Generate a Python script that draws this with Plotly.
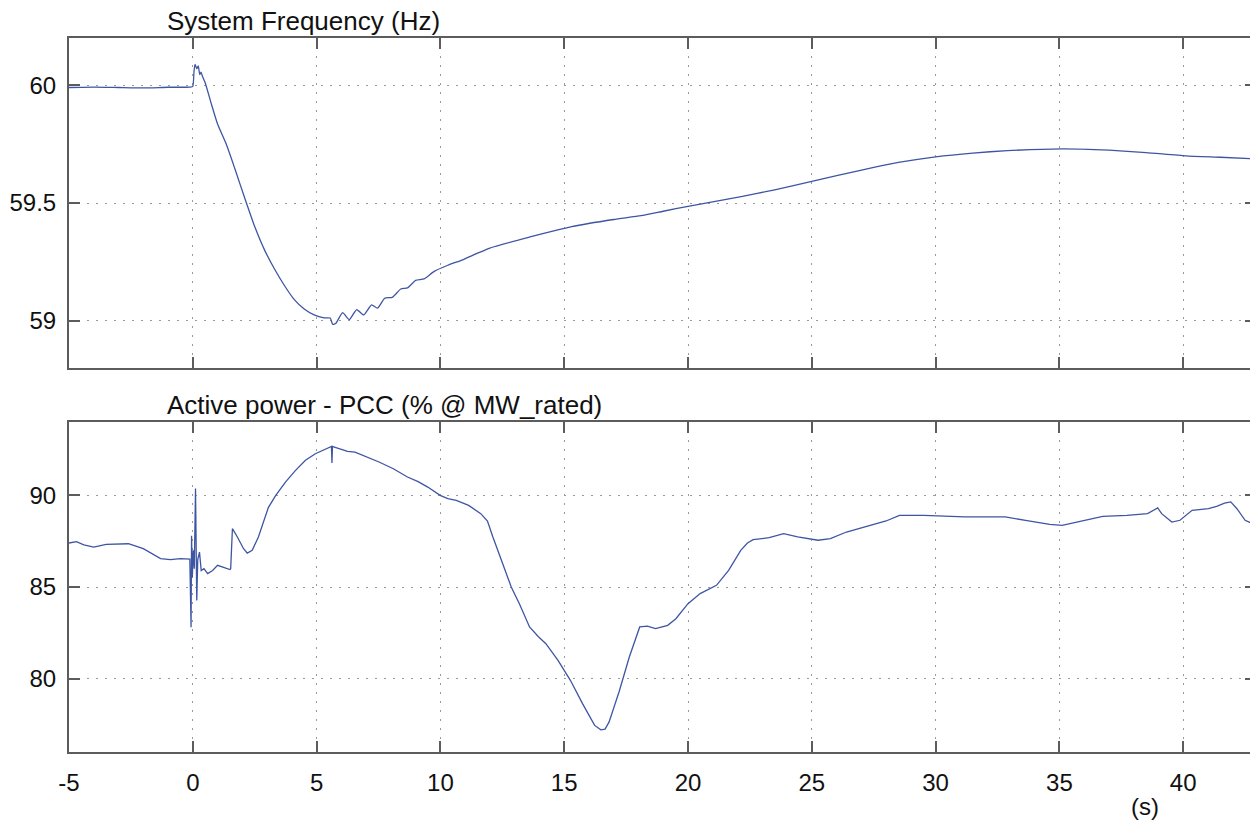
import plotly.graph_objects as go

# ---------------- data ----------------
t_freq = [-5.0, -4.0, -3.0, -2.0, -1.0, -0.1, 0.0, 0.05, 0.09, 0.16, 0.22, 0.28, 0.33, 0.40, 0.50,
          0.75, 1.0, 1.35, 1.70, 2.10, 2.50, 2.90, 3.30, 3.70, 4.10, 4.50, 4.90, 5.3, 5.55, 5.65,
          5.78, 6.05, 6.32, 6.62, 6.9, 7.22, 7.46, 7.75, 8.06, 8.40, 8.67, 9.0, 9.34, 9.75, 10.3,
          10.9, 11.5, 12.0, 13.7, 14.5, 15.3, 17.0, 18.1, 19.0, 20.0, 22.2, 23.5, 25.0, 27.1,
          28.5, 30.0, 31.5, 32.9, 35.1, 37.0, 38.5, 40.1, 41.5, 43.0]
f_vals = [59.99, 59.992, 59.99, 59.988, 59.991, 59.992, 59.995, 60.06, 60.088, 60.07, 60.082,
          60.045, 60.055, 60.035, 60.01, 59.92, 59.835, 59.75, 59.645, 59.52, 59.40, 59.30,
          59.22, 59.15, 59.09, 59.05, 59.025, 59.013, 59.012, 58.985, 58.99, 59.035, 59.005,
          59.048, 59.025, 59.068, 59.054, 59.096, 59.10, 59.135, 59.14, 59.172, 59.178, 59.21,
          59.236, 59.259, 59.287, 59.309, 59.358, 59.38, 59.40, 59.43, 59.446, 59.465, 59.486,
          59.528, 59.556, 59.592, 59.642, 59.672, 59.696, 59.712, 59.722, 59.73, 59.724,
          59.714, 59.70, 59.694, 59.687]

t_pow = [-5.0, -4.7, -4.4, -4.0, -3.5, -3.0, -2.6, -2.0, -1.6, -1.3, -0.9, -0.5, -0.12, -0.07,
         -0.05, -0.02, 0.02, 0.06, 0.11, 0.13, 0.16, 0.2, 0.27, 0.34, 0.45, 0.6, 0.8, 1.0, 1.25,
         1.5, 1.53, 1.6, 1.8, 2.05, 2.2, 2.4, 2.65, 3.05, 3.35, 3.75, 4.15, 4.55, 4.95, 5.35, 5.6,
         5.62, 5.64, 5.75, 6.25, 6.55, 7.0, 7.52, 8.1, 8.67, 9.1, 9.49, 9.99, 10.3, 10.64, 11.14,
         11.63, 11.9, 12.12, 12.54, 12.86, 13.19, 13.6, 13.95, 14.26, 14.75, 15.25, 15.74, 16.0,
         16.23, 16.48, 16.65, 16.81, 17.22, 17.63, 18.05, 18.36, 18.69, 19.18, 19.51, 20.0, 20.49,
         21.15, 21.64, 22.13, 22.4, 22.63, 23.28, 23.86, 24.43, 25.25, 25.75, 26.4, 27.39, 28.0,
         28.54, 29.52, 31.17, 32.81, 33.63, 34.61, 35.11, 35.76, 36.75, 37.73, 38.56, 38.97,
         39.13, 39.54, 39.87, 40.36, 41.02, 41.35, 41.67, 41.92, 42.17, 42.5, 42.74, 42.96]
p_vals = [87.40, 87.47, 87.30, 87.18, 87.33, 87.36, 87.36, 87.09, 86.8, 86.55, 86.49, 86.55,
          86.52, 82.81, 87.8, 85.5, 87.0, 86.0, 90.37, 85.5, 84.27, 86.5, 86.9, 85.9, 86.0, 85.73,
          85.9, 86.18, 86.05, 85.95, 86.0, 88.18, 87.73, 87.09, 86.85, 87.0, 87.73, 89.33, 90.0,
          90.73, 91.36, 91.91, 92.27, 92.49, 92.67, 91.76, 92.67, 92.62, 92.4, 92.36, 92.12,
          91.82, 91.45, 91.0, 90.75, 90.45, 90.0, 89.82, 89.73, 89.45, 89.0, 88.6, 87.73, 86.18,
          85.0, 84.09, 82.82, 82.3, 81.91, 81.0, 79.91, 78.64, 78.0, 77.45, 77.21, 77.25, 77.63,
          79.3, 81.18, 82.82, 82.87, 82.73, 82.91, 83.27, 84.09, 84.64, 85.09, 85.91, 87.0, 87.4,
          87.58, 87.69, 87.91, 87.73, 87.55, 87.64, 88.0, 88.36, 88.6, 88.91, 88.91, 88.82, 88.82,
          88.64, 88.42, 88.36, 88.54, 88.85, 88.91, 89.0, 89.31, 89.0, 88.54, 88.64, 89.18, 89.27,
          89.4, 89.58, 89.64, 89.27, 88.64, 88.49, 88.64]

x_ticks = [-5, 0, 5, 10, 15, 20, 25, 30, 35, 40]
freq_ticks = [59, 59.5, 60]
freq_ticktext = ["59", "59.5", "60"]
pow_ticks = [80, 85, 90]

title_top = "System Frequency (Hz)"
title_bottom = "Active power - PCC (% @ MW_rated)"
x_unit = "(s)"

# ---------------- figure ----------------
# page adds an 8px body margin, so the figure is laid out 8px up/left of the target
OFF = 8
W, H = 1258 - OFF, 822 - OFF
L = 69 - OFF
FONT = "Liberation Sans, Arial, Helvetica, sans-serif"
LINE_COLOR = "#3e55a3"
AX_COLOR = "#5c5c5c"

fig = go.Figure()
fig.add_trace(go.Scatter(x=t_freq, y=f_vals, mode="lines",
                         line=dict(color=LINE_COLOR, width=1.3, shape="spline", smoothing=0.5),
                         xaxis="x", yaxis="y", showlegend=False))
fig.add_trace(go.Scatter(x=t_pow, y=p_vals, mode="lines",
                         line=dict(color=LINE_COLOR, width=1.3), xaxis="x2", yaxis="y2",
                         showlegend=False))

def px_dom(top_px, bot_px):
    return [1 - (bot_px - OFF) / H, 1 - (top_px - OFF) / H]

def px_x(x_px):
    return (x_px - OFF - L) / (W - L)

def px_y(y_px):
    return 1 - (y_px - OFF) / H

axis_common = dict(
    showline=True, linecolor=AX_COLOR, linewidth=2, mirror="ticks",
    ticks="inside", ticklen=11, tickwidth=1.5, tickcolor=AX_COLOR,
    showgrid=True, gridcolor="#9a9a9a", gridwidth=1, griddash="2px,7px",
    zeroline=False, tickfont=dict(family=FONT, size=24, color="#111111"),
)

fig.update_layout(
    width=W, height=H,
    margin=dict(l=L, r=0, t=0, b=0),
    paper_bgcolor="white", plot_bgcolor="white",
    font=dict(family=FONT, color="#111111"),
    xaxis=dict(**axis_common, domain=[0, 1], range=[-5, 42.94], tickvals=x_ticks,
               showticklabels=False, anchor="y"),
    yaxis=dict(**axis_common, domain=px_dom(38, 368), range=[58.8, 60.2],
               tickvals=freq_ticks, ticktext=freq_ticktext, ticklabelstandoff=6, anchor="x"),
    xaxis2=dict(**axis_common, domain=[0, 1], range=[-5, 42.94], tickvals=x_ticks,
                ticktext=[str(v) for v in x_ticks], ticklabelstandoff=8, anchor="y2"),
    yaxis2=dict(**axis_common, domain=px_dom(422, 752), range=[76, 94],
                tickvals=pow_ticks, ticklabelstandoff=6, anchor="x2"),
    annotations=[
        dict(text=title_top, xref="paper", yref="paper", x=px_x(165), y=px_y(21),
             xanchor="left", yanchor="middle", showarrow=False,
             font=dict(family=FONT, size=26, color="#111111")),
        dict(text=title_bottom, xref="paper", yref="paper", x=px_x(165), y=px_y(405),
             xanchor="left", yanchor="middle", showarrow=False,
             font=dict(family=FONT, size=26, color="#111111")),
        dict(text=x_unit, xref="paper", yref="paper", x=px_x(1147), y=px_y(806),
             xanchor="center", yanchor="middle", showarrow=False,
             font=dict(family=FONT, size=24, color="#111111")),
    ],
)

fig.write_html("out.html")
